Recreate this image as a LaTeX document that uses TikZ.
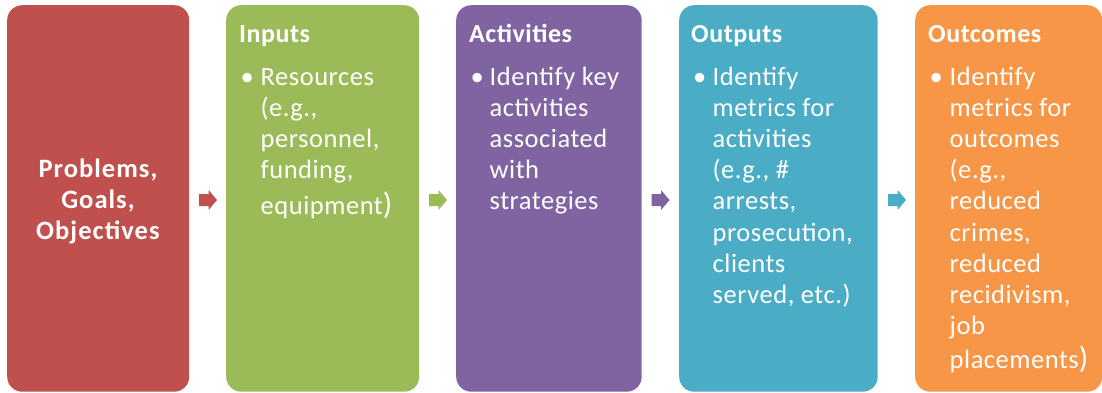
\documentclass[tikz,border=0pt]{standalone}
\usepackage{fontspec}
\setmainfont{Carlito}
\newfontfamily\bodyfont{Carlito}[LetterSpace=2]
\newfontfamily\probfont{Carlito}[LetterSpace=4]
\definecolor{cRed}{HTML}{C0504D}
\definecolor{cGreen}{HTML}{9BBB59}
\definecolor{cPurple}{HTML}{8064A2}
\definecolor{cTeal}{HTML}{4BACC6}
\definecolor{cOrange}{HTML}{F79646}
\newcommand\bigparen{{\fontsize{31}{31.2}\selectfont)}}
\newcommand\flowarrow[2]{%
  \fill[#2] (#1,194) -- (#1+9.5,194) -- (#1+9.5,190) -- (#1+18,200) -- (#1+9.5,210) -- (#1+9.5,206) -- (#1,206) -- cycle;}
\begin{document}
\begin{tikzpicture}[x=1pt,y=-1pt,
  box/.style={rectangle, rounded corners=15pt, inner sep=0pt, anchor=north west, minimum height=386.5pt},
  ttl/.style={anchor=base west, inner sep=0pt, text=white, font=\bodyfont\fontsize{26}{26}\selectfont\bfseries},
  bul/.style={anchor=base west, inner sep=0pt, text=white, font=\bodyfont\fontsize{26.5}{31.2}\selectfont},
  body/.style={bul}]
\useasboundingbox (0,0) rectangle (1102,392);
% boxes
\node[box, fill=cRed, minimum width=182pt] (b1) at (7,5) {};
\node[box, fill=cGreen, minimum width=193pt] (b2) at (226,5) {};
\node[box, fill=cPurple, minimum width=185.5pt] (b3) at (456,5) {};
\node[box, fill=cTeal, minimum width=198.5pt] (b4) at (679,5) {};
\node[box, fill=cOrange, minimum width=187pt] (b5) at (915,5) {};
% arrows
\flowarrow{199}{cRed}
\flowarrow{429}{cGreen}
\flowarrow{651.5}{cPurple}
\flowarrow{888}{cTeal}
% box 1
\node[anchor=base, inner sep=0pt, text=white, font=\probfont\fontsize{26.5}{31.2}\selectfont\bfseries] (t1) at (98,177)
  {\parbox[t]{180pt}{\centering Problems,\\Goals,\\Objectives}};
% box 2
\node[ttl] (h2) at (239,42) {Inputs};
\node[bul] (u2) at (240.5,85) {•};
\node[body] (t2) at (260.5,85) {\parbox[t]{160pt}{\raggedright Resources\\(e.g.,\\personnel,\\funding,\\[5pt]equipment\bigparen}};
% box 3
\node[ttl] (h3) at (469,42) {Activities};
\node[bul] (u3) at (470.5,85) {•};
\node[body] (t3) at (489.5,85) {\parbox[t]{160pt}{\raggedright Identify key\\activities\\associated\\with\\strategies}};
% box 4
\node[ttl] (h4) at (691,42) {Outputs};
\node[bul] (u4) at (693,85) {•};
\node[body] (t4) at (712.5,85) {\parbox[t]{170pt}{\raggedright Identify\\metrics for\\activities\\(e.g., \#\\arrests,\\prosecution,\\clients\\served, etc.)}};
% box 5
\node[ttl] (h5) at (928,42) {Outcomes};
\node[bul] (u5) at (929.5,85) {•};
\node[body] (t5) at (949.5,85) {\parbox[t]{150pt}{\raggedright Identify\\metrics for\\outcomes\\(e.g.,\\reduced\\crimes,\\reduced\\recidivism,\\job\\[3pt]placements\bigparen}};
\end{tikzpicture}
\end{document}
